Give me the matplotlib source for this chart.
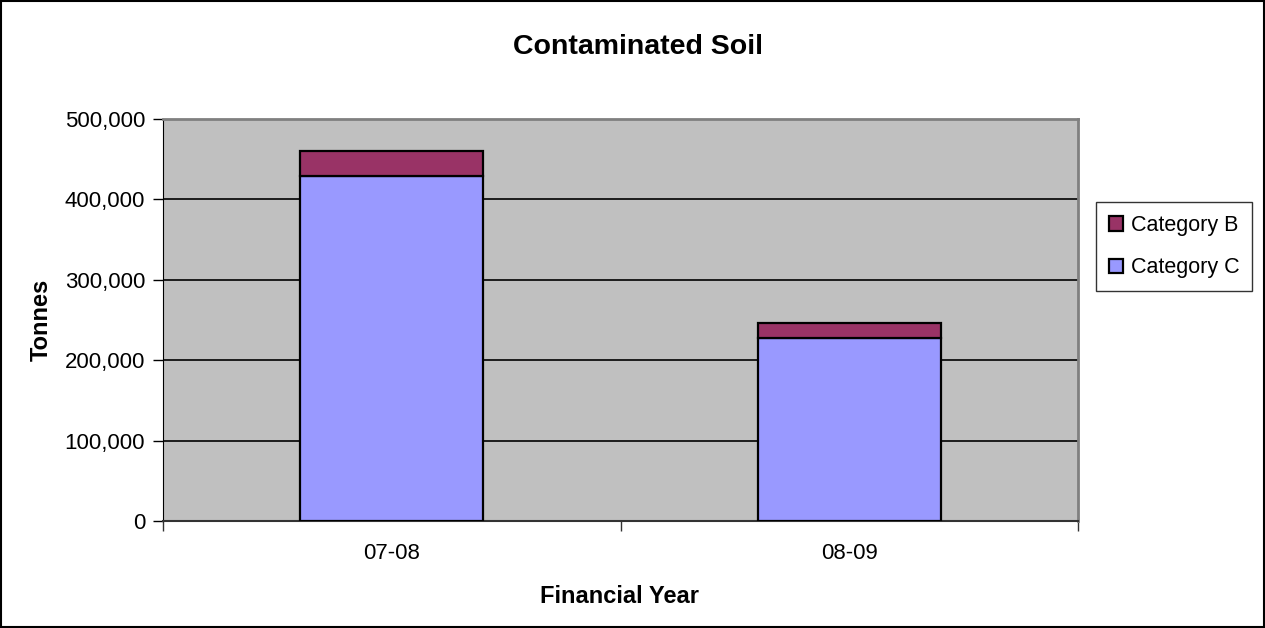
import matplotlib.pyplot as plt
from matplotlib.patches import Rectangle
from matplotlib.ticker import FuncFormatter, FixedLocator

years = ["07-08", "08-09"]
cat_c = [429000, 228000]
cat_b = [31000, 18000]

plt.rcParams['font.family'] = ['Liberation Sans', 'DejaVu Sans']

fig = plt.figure(figsize=(12.65, 6.28), dpi=100)
fig.patches.append(Rectangle((0.001, 0.001), 0.998, 0.997, transform=fig.transFigure,
                             fill=False, edgecolor='black', linewidth=1.5))

ax = fig.add_axes([0.1289, 0.170, 0.7233, 0.6405])
ax.set_facecolor('#C0C0C0')

x = list(range(len(years)))
ax.bar(x, cat_c, width=0.4, color='#9999FF', edgecolor='black', linewidth=1.6,
       label='Category C', zorder=3)
ax.bar(x, cat_b, width=0.4, bottom=cat_c, color='#993366', edgecolor='black',
       linewidth=1.6, label='Category B', zorder=3)

ax.set_xlim(-0.5, 1.5)
ax.set_ylim(0, 500000)
ax.set_yticks(range(0, 500001, 100000))
ax.yaxis.set_major_formatter(FuncFormatter(lambda v, p: f"{int(v):,}"))
ax.yaxis.grid(True, color='black', linewidth=1.2, zorder=1)
ax.set_axisbelow(True)

# category labels at centres, tick marks at boundaries
ax.set_xticks(x)
ax.set_xticklabels(years, fontsize=16)
ax.tick_params(axis='x', which='major', length=0, pad=16)
ax.xaxis.set_minor_locator(FixedLocator([-0.5, 0.5, 1.5]))
ax.tick_params(axis='x', which='minor', length=7, width=1, color='#333333')
ax.tick_params(axis='y', labelsize=16, length=7, width=1, pad=6)

for s in ['top', 'right']:
    ax.spines[s].set_color('#808080')
    ax.spines[s].set_linewidth(2)
ax.spines['left'].set_color('black')
ax.spines['bottom'].set_color('#333333')
ax.spines['bottom'].set_linewidth(1.5)

fig.text(638 / 1265, 1 - 54 / 628, "Contaminated Soil", fontsize=20.5,
         fontweight='bold', ha='center', va='baseline')
fig.text(41 / 1265, 1 - 320 / 628, "Tonnes", fontsize=17, fontweight='bold',
         rotation=90, ha='center', va='center')
fig.text(620 / 1265, 1 - 603 / 628, "Financial Year", fontsize=17,
         fontweight='bold', ha='center', va='baseline')

handles, labels = ax.get_legend_handles_labels()
leg = fig.legend(handles[::-1], labels[::-1], loc='upper left',
                 bbox_to_anchor=(1096 / 1265, 1 - 202 / 628), borderaxespad=0,
                 fontsize=15.5, frameon=True, fancybox=False, edgecolor='black',
                 handlelength=0.65, handleheight=0.65, handletextpad=0.37,
                 labelspacing=1.0, borderpad=0.6)
leg.get_frame().set_linewidth(1.0)

fig.savefig("out.png", dpi=100)
